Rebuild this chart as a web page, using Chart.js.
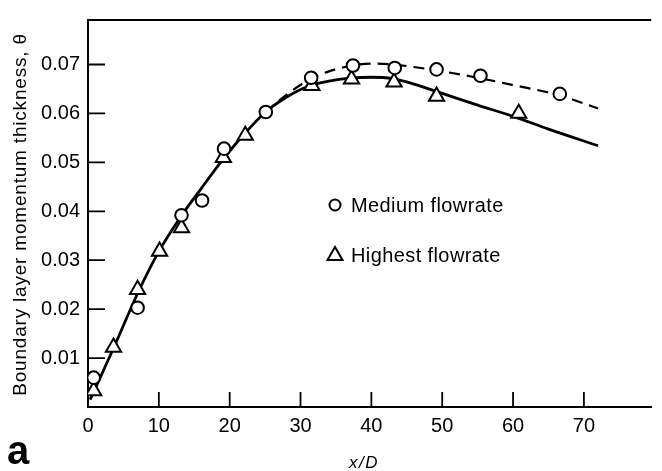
<!DOCTYPE html>
<html>
<head>
<meta charset="utf-8">
<script src="https://cdn.jsdelivr.net/npm/chart.js@4.4.1/dist/chart.umd.min.js"></script>
<style>
  html, body { margin: 0; padding: 0; background: #fff; }
  #wrap { width: 662px; height: 471px; position: relative; }
</style>
</head>
<body>
<div id="wrap"><canvas id="c"></canvas></div>
<script>
// ---- data ----
const xTicks = [0, 10, 20, 30, 40, 50, 60, 70];
const yTicks = [0.01, 0.02, 0.03, 0.04, 0.05, 0.06, 0.07];

// medium flowrate (circles)
const mediumX = [0.8, 7.0, 13.2, 16.1, 19.2, 25.1, 31.5, 37.4, 43.3, 49.2, 55.4, 66.6];
const mediumY = [0.0060, 0.0203, 0.0392, 0.0422, 0.0528, 0.0603, 0.0673, 0.0698, 0.0693, 0.0690, 0.0677, 0.0640];

// highest flowrate (triangles)
const highX = [0.8, 3.6, 7.0, 10.1, 13.2, 19.1, 22.2, 31.6, 37.2, 43.2, 49.2, 60.8];
const highY = [0.0033, 0.0122, 0.0240, 0.0318, 0.0366, 0.0510, 0.0555, 0.0657, 0.0670, 0.0664, 0.0635, 0.0600];

// faired curves
const solidX = [0.3, 3.6, 7.0, 10.0, 13.0, 16.0, 19.0, 22.0, 25.0, 28.0, 31.0, 34.0, 37.0, 40.0, 43.0, 46.0, 50.0, 55.0, 60.0, 65.0, 72.0];
const solidY = [0.0015, 0.0120, 0.0232, 0.0318, 0.0387, 0.0447, 0.0505, 0.0557, 0.0602, 0.0633, 0.0655, 0.0666, 0.0672, 0.0674, 0.0671, 0.0660, 0.0641, 0.0617, 0.0594, 0.0568, 0.0534];
const dashX = [25.0, 28.0, 31.0, 34.0, 37.0, 40.0, 43.0, 46.0, 50.0, 55.0, 60.0, 66.6, 72.0];
const dashY = [0.0602, 0.0638, 0.0667, 0.0686, 0.0697, 0.0702, 0.0700, 0.0695, 0.0686, 0.0673, 0.0658, 0.0637, 0.0610];

const pts = (xs, ys) => xs.map((x, i) => ({ x, y: ys[i] }));
const FONT = "'Liberation Sans', Arial, Helvetica, sans-serif";

// ---- extras: inward ticks, frame, titles, legend ----
const decor = {
  id: "decor",
  afterDraw(chart) {
    const { ctx, chartArea: a, scales: { x, y } } = chart;
    ctx.save();
    ctx.strokeStyle = "#000";
    ctx.fillStyle = "#000";
    // top frame line
    ctx.lineWidth = 2;
    ctx.beginPath(); ctx.moveTo(a.left - 1, a.top); ctx.lineTo(a.right, a.top); ctx.stroke();
    // inward ticks
    ctx.lineWidth = 1.8;
    ctx.beginPath();
    xTicks.forEach(v => {
      if (v === 0) return;
      const px = x.getPixelForValue(v);
      ctx.moveTo(px, a.bottom); ctx.lineTo(px, a.bottom - 15);
    });
    yTicks.forEach(v => {
      const py = y.getPixelForValue(v);
      ctx.moveTo(a.left, py); ctx.lineTo(a.left + 17, py);
    });
    ctx.stroke();

    // y title
    ctx.save();
    ctx.translate(21, (a.top + a.bottom) / 2 + 1);
    ctx.rotate(-Math.PI / 2);
    ctx.font = `19px ${FONT}`;
    ctx.letterSpacing = "0.8px";
    ctx.textAlign = "center";
    ctx.textBaseline = "middle";
    ctx.fillText("Boundary layer momentum thickness, \u03b8", 0, 0);
    ctx.restore();

    // x title
    ctx.font = `italic 17px ${FONT}`;
    ctx.letterSpacing = "1.5px";
    ctx.textAlign = "center";
    ctx.textBaseline = "alphabetic";
    ctx.fillText("x/D", 364, 468);
    ctx.letterSpacing = "0px";

    // panel letter
    ctx.font = `bold 40px ${FONT}`;
    ctx.textAlign = "left";
    ctx.fillText("a", 7, 464);

    // legend
    ctx.lineWidth = 2;
    ctx.beginPath(); ctx.arc(335, 205, 5.5, 0, Math.PI * 2); ctx.stroke();
    ctx.beginPath();
    ctx.moveTo(335, 247); ctx.lineTo(342.5, 260); ctx.lineTo(327.5, 260); ctx.closePath();
    ctx.stroke();
    ctx.font = `20px ${FONT}`;
    ctx.letterSpacing = "0.4px";
    ctx.fillText("Medium flowrate", 351, 212);
    ctx.fillText("Highest flowrate", 351, 262);
    ctx.restore();
  }
};

new Chart(document.getElementById("c"), {
  type: "scatter",
  data: {
    datasets: [
      { label: "Medium flowrate", data: pts(mediumX, mediumY), pointStyle: "circle", pointRadius: 6.3,
        pointBackgroundColor: "#fff", pointBorderColor: "#000", pointBorderWidth: 2, order: 1 },
      { label: "Highest flowrate", data: pts(highX, highY), pointStyle: "triangle", pointRadius: 8.8,
        pointBackgroundColor: "#fff", pointBorderColor: "#000", pointBorderWidth: 2, order: 1 },
      { label: "solid", data: pts(solidX, solidY), showLine: true, borderColor: "#000", borderWidth: 2.8,
        pointRadius: 0, cubicInterpolationMode: "monotone", order: 2 },
      { label: "dashed", data: pts(dashX, dashY), showLine: true, borderColor: "#000", borderWidth: 2.2,
        borderDash: [11, 7], pointRadius: 0, cubicInterpolationMode: "monotone", order: 3 }
    ]
  },
  options: {
    responsive: true,
    maintainAspectRatio: false,
    animation: false,
    events: [],
    layout: { padding: { top: 14, right: 0, left: 0, bottom: 0 } },
    plugins: { legend: { display: false }, tooltip: { enabled: false } },
    scales: {
      x: {
        type: "linear", min: 0, max: 79.5,
        afterBuildTicks: s => { s.ticks = xTicks.map(v => ({ value: v })); },
        afterFit: s => { s.height = 64; },
        grid: { display: false, drawTicks: false },
        border: { display: true, color: "#000", width: 2 },
        ticks: { color: "#000", padding: 7, maxRotation: 0, font: { family: FONT, size: 20 },
                 callback: v => String(v) }
      },
      y: {
        type: "linear", min: 0, max: 0.0791,
        afterBuildTicks: s => { s.ticks = yTicks.map(v => ({ value: v })); },
        afterFit: s => { s.width = 88; },
        grid: { display: false, drawTicks: false },
        border: { display: true, color: "#000", width: 2 },
        ticks: { color: "#000", padding: 8, font: { family: FONT, size: 20 },
                 callback: v => Number(v).toFixed(2) }
      }
    }
  },
  plugins: [decor]
});
</script>
</body>
</html>
